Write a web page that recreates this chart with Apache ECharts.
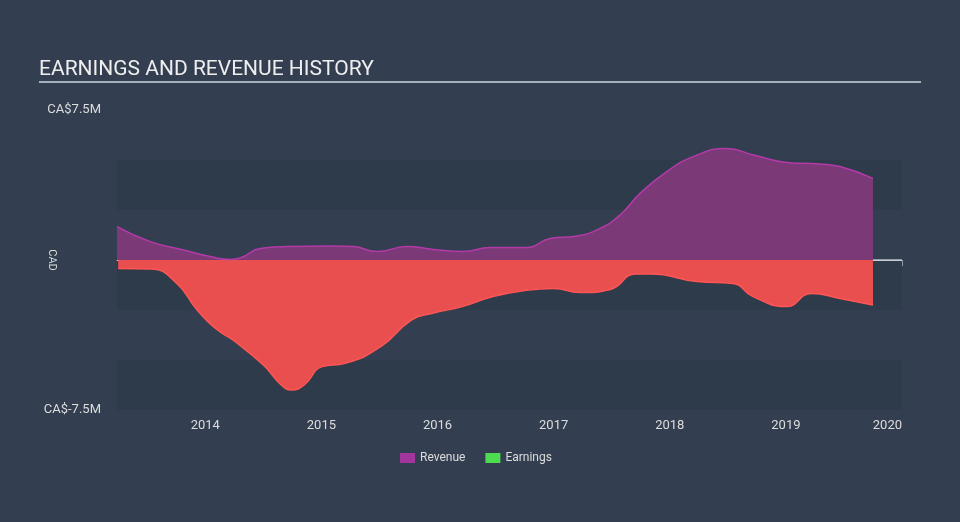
<!DOCTYPE html>
<html>
<head>
<meta charset="utf-8">
<script src="https://cdn.jsdelivr.net/npm/echarts@6/dist/echarts.min.js"></script>
<style>
html,body{margin:0;padding:0;background:#333f50;}
#c{width:960px;height:522px;}
</style>
</head>
<body>
<div id="c"></div>
<script>
// Decimal years and values in CA$ millions
const revenueX = [2013.24,2013.527,2013.813,2014.043,2014.215,2014.30,2014.473,2014.70,2015.10,2015.277,2015.478,2015.736,2015.965,2016.223,2016.453,2016.769,2016.97,2017.20,2017.40,2017.572,2017.744,2017.974,2018.203,2018.49,2018.72,2019.007,2019.29,2019.466,2019.75];
const revenueY = [1.67,0.92,0.5,0.17,0.03,0.1,0.58,0.67,0.7,0.67,0.42,0.67,0.53,0.42,0.63,0.63,1.08,1.2,1.58,2.25,3.33,4.42,5.17,5.58,5.25,4.88,4.8,4.67,4.08];
const earningsX = [2013.25,2013.535,2013.755,2013.93,2014.106,2014.238,2014.50,2014.654,2014.743,2014.852,2015.007,2015.204,2015.512,2015.775,2015.951,2016.214,2016.478,2016.742,2017.004,2017.225,2017.488,2017.707,2017.839,2018.235,2018.542,2018.717,2019.003,2019.223,2019.465,2019.75];
const earningsY = [-0.42,-0.45,-1.17,-2.5,-3.5,-4.0,-5.25,-6.25,-6.5,-6.25,-5.33,-5.17,-4.33,-3.0,-2.67,-2.33,-1.83,-1.53,-1.42,-1.63,-1.47,-0.7,-0.7,-1.08,-1.17,-1.83,-2.33,-1.67,-1.92,-2.25];
const yearTicks = [2014,2015,2016,2017,2018,2019,2020];
const yTickLabels = {'7.5':'CA$7.5M','-7.5':'CA$-7.5M'};
const zeroLineX = [2013.24,2020];

const xMin = 2013.24, xMax = 2020;

const chart = echarts.init(document.getElementById('c'));
chart.setOption({
  backgroundColor:'#333f50',
  animation:false,
  title:{
    text:'EARNINGS AND REVENUE HISTORY',
    left:34, top:54,
    textStyle:{color:'#eeeeee',fontFamily:'Roboto',fontSize:21,fontWeight:'normal'}
  },
  graphic:[{
    type:'line', shape:{x1:39,y1:82,x2:921,y2:82},
    style:{stroke:'#a7b0ba',lineWidth:2}
  }],
  legend:{
    left:395, top:447,
    itemWidth:15, itemHeight:10, itemGap:20,
    icon:'rect',
    textStyle:{color:'#dddddd',fontFamily:'Roboto',fontSize:12},
    data:[{name:'Revenue',itemStyle:{color:'#a2369c'}},{name:'Earnings',itemStyle:{color:'#4ddc4f'}}]
  },
  grid:{left:117,right:58,top:110,bottom:112},
  xAxis:{
    type:'value', min:xMin, max:xMax,
    axisLine:{show:true,lineStyle:{color:'#8d9aaa',width:1}},
    axisTick:{show:true,customValues:yearTicks,length:6,lineStyle:{color:'#8d9aaa'}},
    axisLabel:{customValues:yearTicks,color:'#dddddd',fontFamily:'Roboto',fontSize:13,margin:9,
      alignMaxLabel:'right',
      formatter:v=>String(Math.round(v))},
    splitLine:{show:false}
  },
  yAxis:{
    type:'value', min:-7.5, max:7.5, interval:2.5,
    name:'CAD', nameLocation:'middle', nameRotate:-90, nameGap:60, nameMoveOverlap:false,
    nameTextStyle:{color:'#dddddd',fontFamily:'Roboto',fontSize:11},
    axisLine:{show:false}, axisTick:{show:false},
    axisLabel:{color:'#dddddd',fontFamily:'Roboto',fontSize:13,margin:16,
      formatter:v=>yTickLabels[String(v)]||''},
    splitLine:{show:false},
    splitArea:{show:true,areaStyle:{color:['#2e3b4b','rgba(0,0,0,0)']}}
  },
  series:[
    {
      name:'zero', type:'line', z:1, silent:true, symbol:'none',
      data:zeroLineX.map(x=>[x,0]),
      lineStyle:{color:'#ffffff',width:1}
    },
    {
      name:'Revenue', type:'line', smooth:0.5, symbol:'none', z:3,
      data:revenueX.map((x,i)=>[x,revenueY[i]]),
      lineStyle:{color:'#b43aa8',width:1.5},
      itemStyle:{color:'#b43aa8'},
      areaStyle:{color:'#7b3977',opacity:1}
    },
    {
      name:'Earnings', type:'line', smooth:0.5, symbol:'none', z:3,
      data:earningsX.map((x,i)=>[x,earningsY[i]]),
      lineStyle:{color:'#ff5555',width:1.5},
      itemStyle:{color:'#ff5555'},
      areaStyle:{color:'#ea4f50',opacity:1}
    }
  ]
});
</script>
</body>
</html>
